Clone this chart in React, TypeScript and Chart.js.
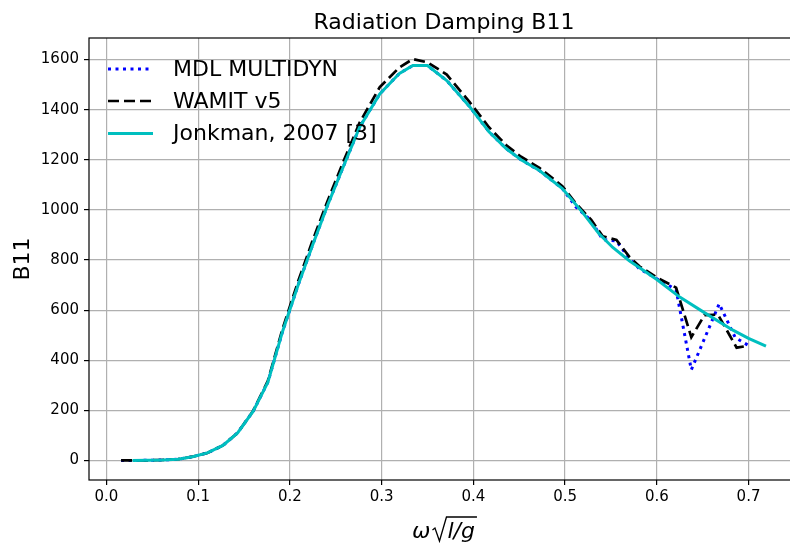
import React, { useEffect, useRef } from "react";
import { Chart, registerables } from "chart.js";
Chart.register(...registerables);

const titleText = "Radiation Damping B11";
const yLabel = "B11";
const legendLabels = ["MDL MULTIDYN", "WAMIT v5", "Jonkman, 2007 [3]"];
const xTicks = [0, 0.1, 0.2, 0.3, 0.4, 0.5, 0.6, 0.7];
const yTicks = [0, 200, 400, 600, 800, 1000, 1200, 1400, 1600];

const mdlX = [0.016, 0.0285, 0.045, 0.061, 0.078, 0.094, 0.11, 0.127, 0.143, 0.16, 0.176, 0.192, 0.209, 0.225, 0.241, 0.258, 0.276, 0.298, 0.3195, 0.334, 0.35, 0.371, 0.396, 0.417, 0.436, 0.452, 0.472, 0.497, 0.512, 0.5285, 0.541, 0.556, 0.5703, 0.581, 0.6, 0.621, 0.6376, 0.668, 0.6855, 0.7];
const mdlY = [0, 0, 0.5, 2, 5, 15, 30, 60, 110, 197, 312, 515, 700, 862, 1018, 1170, 1330, 1463, 1545, 1576, 1576, 1516, 1412, 1312, 1244, 1200, 1157, 1085, 1011, 957, 881, 876, 805, 765, 725, 682, 362, 625, 490, 459];

const wamitX = [0.016, 0.0285, 0.045, 0.061, 0.078, 0.094, 0.11, 0.127, 0.143, 0.16, 0.176, 0.192, 0.209, 0.225, 0.241, 0.258, 0.276, 0.298, 0.3195, 0.334, 0.35, 0.371, 0.396, 0.417, 0.436, 0.452, 0.472, 0.497, 0.512, 0.5285, 0.541, 0.556, 0.5703, 0.581, 0.6, 0.621, 0.6376, 0.652, 0.6667, 0.687, 0.7];
const wamitY = [0, 0, 0.5, 2, 5, 15, 30, 60, 110, 198, 318, 525, 715, 880, 1035, 1190, 1348, 1490, 1569, 1602, 1589, 1540, 1430, 1330, 1258, 1212, 1168, 1095, 1025, 960, 895, 880, 812, 775, 730, 690, 492, 580, 582, 450, 458];

const jonkmanX = [0.0285, 0.045, 0.061, 0.078, 0.094, 0.11, 0.127, 0.143, 0.16, 0.176, 0.192, 0.209, 0.225, 0.241, 0.258, 0.276, 0.298, 0.3195, 0.334, 0.35, 0.371, 0.396, 0.417, 0.436, 0.452, 0.472, 0.497, 0.519, 0.537, 0.552, 0.57, 0.6, 0.625, 0.654, 0.683, 0.7, 0.719];
const jonkmanY = [0, 0.5, 2, 5, 15, 30, 60, 110, 197, 312, 515, 700, 862, 1018, 1170, 1330, 1463, 1545, 1576, 1576, 1516, 1412, 1312, 1244, 1200, 1157, 1085, 990, 905, 850, 797, 722, 652, 585, 520, 487, 456];

const FONT = "DejaVu Sans";

const frameTextPlugin = {
  id: "frameText",
  afterDatasetsDraw(chart: any) {
    const { ctx, chartArea } = chart;
    const { left, right, top, bottom } = chartArea;
    ctx.save();
    ctx.strokeStyle = "#000";
    ctx.lineWidth = 1.2;
    ctx.strokeRect(left, top, right - left, bottom - top);

    const styles = [
      { color: "#0000ff", dash: [3, 4.5], width: 3 },
      { color: "#000000", dash: [11, 5], width: 2.7 },
      { color: "#00bfbf", dash: [], width: 3 },
    ];
    const ys = [69, 101, 133.5];
    ctx.font = `22px "${FONT}"`;
    ctx.textBaseline = "middle";
    ctx.textAlign = "left";
    legendLabels.forEach((lab, i) => {
      const s = styles[i];
      ctx.beginPath();
      ctx.setLineDash(s.dash);
      ctx.lineCap = "butt";
      ctx.strokeStyle = s.color;
      ctx.lineWidth = s.width;
      ctx.moveTo(108, ys[i]);
      ctx.lineTo(153, ys[i]);
      ctx.stroke();
      ctx.setLineDash([]);
      ctx.fillStyle = "#000";
      ctx.fillText(lab, 173, ys[i] + 1);
    });
    ctx.restore();
  },
  afterDraw(chart: any) {
    const { ctx, chartArea } = chart;
    const cx = (chartArea.left + chartArea.right) / 2;
    ctx.save();
    ctx.fillStyle = "#000";
    ctx.font = `22px "${FONT}"`;
    ctx.textAlign = "center";
    ctx.textBaseline = "alphabetic";
    ctx.fillText(titleText, cx, 29);
    ctx.save();
    ctx.translate(29, (chartArea.top + chartArea.bottom) / 2);
    ctx.rotate(-Math.PI / 2);
    ctx.fillText(yLabel, 0, 0);
    ctx.restore();
    ctx.font = `italic 22px "${FONT}"`;
    ctx.textAlign = "left";
    const base = 538;
    const wOmega = ctx.measureText("ω").width;
    const wLg = ctx.measureText("l/g").width;
    const radW = 14;
    const total = wOmega + 2 + radW + wLg + 2;
    let x = cx - total / 2;
    ctx.fillText("ω", x, base);
    x += wOmega + 2;
    ctx.beginPath();
    ctx.strokeStyle = "#000";
    ctx.lineWidth = 1.3;
    ctx.moveTo(x, base - 8);
    ctx.lineTo(x + 2.5, base - 10);
    ctx.lineTo(x + 7, base + 3);
    ctx.lineTo(x + radW, base - 21);
    ctx.lineTo(x + radW + wLg + 3, base - 21);
    ctx.stroke();
    ctx.fillText("l/g", x + radW + 1, base);
    ctx.restore();
  },
};

export default function App() {
  const ref = useRef<HTMLCanvasElement | null>(null);
  useEffect(() => {
    if (!ref.current) return;
    const mk = (xs: number[], ys: number[]) => xs.map((x, i) => ({ x, y: ys[i] }));
    const chart = new Chart(ref.current, {
      type: "line",
      data: {
        datasets: [
          {
            label: legendLabels[0],
            data: mk(mdlX, mdlY),
            borderColor: "#0000ff",
            borderWidth: 3,
            borderDash: [3, 4.5],
            borderCapStyle: "butt",
            pointRadius: 0,
            tension: 0,
            fill: false,
            order: 3,
          },
          {
            label: legendLabels[1],
            data: mk(wamitX, wamitY),
            borderColor: "#000000",
            borderWidth: 2.7,
            borderDash: [11, 5],
            borderCapStyle: "butt",
            pointRadius: 0,
            tension: 0,
            fill: false,
            order: 2,
          },
          {
            label: legendLabels[2],
            data: mk(jonkmanX, jonkmanY),
            borderColor: "#00bfbf",
            borderWidth: 3,
            pointRadius: 0,
            tension: 0,
            fill: false,
            order: 1,
          },
        ],
      },
      options: {
        animation: false,
        responsive: false,
        devicePixelRatio: 1,
        layout: { padding: { left: 0, right: 11, top: 38, bottom: 0 } },
        plugins: { legend: { display: false }, title: { display: false }, tooltip: { enabled: false } },
        scales: {
          x: {
            type: "linear",
            min: -0.019,
            max: 0.755,
            afterFit(scale: any) {
              scale.height = 66;
              scale.paddingLeft = 0;
              scale.paddingRight = 0;
            },
            afterBuildTicks(scale: any) {
              scale.ticks = xTicks.map((v) => ({ value: v }));
            },
            ticks: {
              color: "#000",
              font: { family: FONT, size: 15 },
              padding: 3,
              maxRotation: 0,
              autoSkip: false,
              callback: (v: any) => Number(v).toFixed(1),
            },
            grid: { color: "#b0b0b0", lineWidth: 1.2, tickColor: "#000", tickLength: 5, tickWidth: 1.2 },
            border: { display: false },
          },
          y: {
            type: "linear",
            min: -78,
            max: 1686,
            afterFit(scale: any) {
              scale.width = 89;
              scale.paddingTop = 0;
              scale.paddingBottom = 0;
            },
            afterBuildTicks(scale: any) {
              scale.ticks = yTicks.map((v) => ({ value: v }));
            },
            ticks: {
              color: "#000",
              font: { family: FONT, size: 15 },
              padding: 5,
              autoSkip: false,
              callback: (v: any) => String(v),
            },
            grid: { color: "#b0b0b0", lineWidth: 1.2, tickColor: "#000", tickLength: 5, tickWidth: 1.2 },
            border: { display: false },
          },
        },
      },
      plugins: [frameTextPlugin],
    } as any);
    return () => chart.destroy();
  }, []);
  return (
    <div style={{ position: "fixed", left: 0, top: 0, width: 790, height: 546, overflow: "hidden", background: "#fff" }}>
      <canvas ref={ref} width={810} height={546} style={{ display: "block", width: 810, height: 546 }} />
    </div>
  );
}
